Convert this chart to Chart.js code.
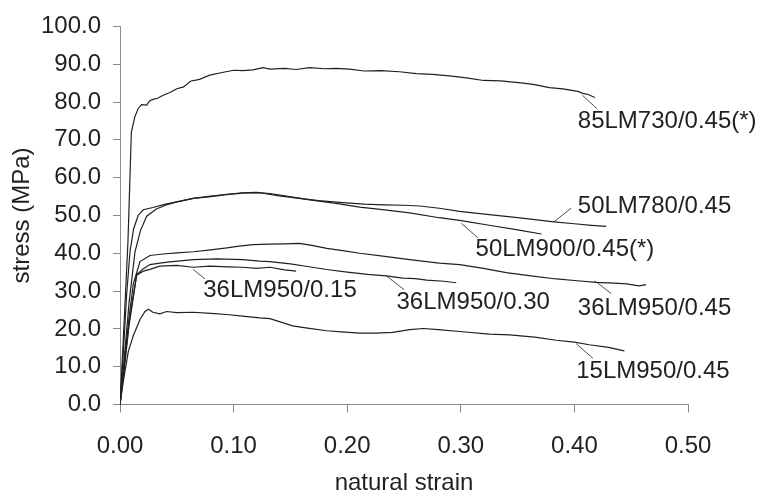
<!DOCTYPE html>
<html>
<head>
<meta charset="utf-8">
<script src="https://cdn.jsdelivr.net/npm/chart.js@4/dist/chart.umd.min.js"></script>
<style>
  body { margin: 0; background: #fff; }
  canvas { display: block; }
</style>
</head>
<body>
<canvas id="c" width="761" height="496"></canvas>
<script>
// stress-strain curves (strain, stress in MPa)
const strain85 = [0, 0.004, 0.007, 0.010, 0.013, 0.016, 0.019, 0.0235, 0.026, 0.029, 0.033, 0.038, 0.044, 0.05, 0.056, 0.062, 0.07, 0.079, 0.09, 0.10, 0.108, 0.117, 0.126, 0.132, 0.145, 0.155, 0.167, 0.18, 0.19, 0.202, 0.215, 0.23, 0.246, 0.261, 0.275, 0.29, 0.305, 0.32, 0.335, 0.355, 0.365, 0.378, 0.39, 0.403, 0.4075, 0.412, 0.418];
const stress85 = [0, 24, 43, 72, 76, 78.3, 79.3, 79.2, 80.3, 80.7, 81.0, 81.8, 82.5, 83.5, 84.0, 85.5, 86.0, 87.1, 87.8, 88.4, 88.3, 88.5, 89.1, 88.7, 88.9, 88.6, 89.1, 88.8, 88.9, 88.7, 88.2, 88.3, 88.0, 87.5, 87.3, 86.9, 86.4, 85.7, 85.6, 85.0, 84.6, 83.8, 83.5, 82.8, 82.3, 82.0, 81.2];

const strain50a = [0, 0.003, 0.0059, 0.0088, 0.012, 0.016, 0.0205, 0.029, 0.04, 0.05, 0.0645, 0.08, 0.094, 0.108, 0.12, 0.132, 0.145, 0.167, 0.19, 0.211, 0.233, 0.255, 0.281, 0.299, 0.325, 0.35, 0.371];
const stress50a = [0, 14, 29.3, 40.4, 46.5, 50, 51.5, 52.1, 53.0, 53.6, 54.5, 55.1, 55.6, 56.0, 56.1, 55.8, 55.2, 54.1, 53.2, 52.2, 51.5, 50.7, 49.4, 48.7, 47.4, 46.2, 45.1];

const strain50b = [0, 0.004, 0.008, 0.0132, 0.018, 0.0235, 0.032, 0.04, 0.05, 0.0645, 0.08, 0.094, 0.108, 0.123, 0.14, 0.158, 0.175, 0.196, 0.215, 0.232, 0.25, 0.264, 0.281, 0.299, 0.325, 0.35, 0.382, 0.40, 0.415, 0.428];
const stress50b = [0, 13, 27, 40.4, 46, 49.8, 51.7, 52.7, 53.6, 54.5, 55.0, 55.5, 55.9, 56.0, 55.2, 54.5, 53.9, 53.4, 53.0, 52.8, 52.7, 52.5, 51.9, 51.1, 50.2, 49.4, 48.3, 47.8, 47.4, 47.1];

const strain36c = [0, 0.004, 0.008, 0.0117, 0.0176, 0.0264, 0.038, 0.05, 0.0645, 0.08, 0.094, 0.105, 0.117, 0.132, 0.145, 0.158, 0.17, 0.182, 0.196, 0.211, 0.233, 0.255, 0.281, 0.299, 0.32, 0.34, 0.36, 0.384, 0.40, 0.419, 0.435, 0.446, 0.457, 0.463];
const stress36c = [0, 12, 23, 31.9, 37.8, 39.4, 39.8, 40.1, 40.4, 40.9, 41.4, 41.9, 42.3, 42.4, 42.5, 42.6, 42.0, 41.3, 40.7, 40.0, 39.2, 38.3, 37.4, 37.0, 36.0, 34.9, 34.1, 33.2, 32.8, 32.3, 32.1, 31.9, 31.4, 31.7];

const strain36b = [0, 0.004, 0.008, 0.0147, 0.02, 0.0264, 0.035, 0.044, 0.0645, 0.085, 0.108, 0.123, 0.132, 0.15, 0.165, 0.182, 0.2, 0.218, 0.2346, 0.249, 0.26, 0.270, 0.285, 0.296];
const stress36b = [0, 11, 22, 34.4, 35.8, 37.0, 37.4, 37.7, 38.3, 38.5, 38.3, 37.9, 37.8, 37.2, 36.5, 35.7, 35.0, 34.4, 34.0, 33.4, 33.3, 32.9, 32.6, 32.2];

const strain36a = [0, 0.004, 0.008, 0.0147, 0.02, 0.027, 0.035, 0.05, 0.0645, 0.079, 0.095, 0.108, 0.12, 0.132, 0.145, 0.155];
const stress36a = [0, 10, 21, 34.2, 35.2, 35.8, 36.6, 36.8, 36.3, 36.6, 36.4, 36.3, 36.0, 36.3, 35.6, 35.3];

const strain15 = [0, 0.003, 0.0073, 0.0117, 0.0176, 0.022, 0.025, 0.029, 0.035, 0.041, 0.05, 0.0645, 0.08, 0.094, 0.11, 0.123, 0.132, 0.152, 0.165, 0.182, 0.195, 0.211, 0.225, 0.24, 0.255, 0.267, 0.28, 0.299, 0.325, 0.343, 0.365, 0.384, 0.40, 0.413, 0.43, 0.444];
const stress15 = [0, 6.3, 14, 18.2, 22.5, 24.6, 25.2, 24.4, 24.0, 24.6, 24.3, 24.4, 24.1, 23.8, 23.3, 22.9, 22.7, 20.8, 20.2, 19.5, 19.2, 18.9, 18.9, 19.1, 19.8, 20.1, 19.8, 19.3, 18.6, 18.4, 17.8, 17.0, 16.5, 15.8, 15.1, 14.2];

const seriesNames = ["85LM730/0.45(*)", "50LM900/0.45(*)", "50LM780/0.45", "36LM950/0.45", "36LM950/0.30", "36LM950/0.15", "15LM950/0.45"];

// label text spot and leader line, in data units
const curveLabels = [
  { text: "85LM730/0.45(*)", at: [0.403, 74.8], from: [0.407, 81.8], to: [0.420, 78.2] },
  { text: "50LM780/0.45",    at: [0.403, 52.5], from: [0.382, 48.3], to: [0.397, 51.9] },
  { text: "50LM900/0.45(*)", at: [0.313, 41.1], from: [0.3005, 47.9], to: [0.315, 44.1] },
  { text: "36LM950/0.45",    at: [0.403, 25.5], from: [0.418, 32.7], to: [0.4325, 29.3] },
  { text: "36LM950/0.30",    at: [0.2434, 27.0], from: [0.2346, 34.0], to: [0.250, 30.4] },
  { text: "36LM950/0.15",    at: [0.0733, 30.2], from: [0.0645, 35.7], to: [0.0748, 33.2] },
  { text: "15LM950/0.45",    at: [0.4016, 8.8], from: [0.4016, 16.1], to: [0.4163, 12.2] }
];

const INK = "#231f20";
const AXIS = "#8c8c8c";
const FONT = '"Liberation Sans", Arial, sans-serif';

function toPoints(xs, ys) {
  return xs.map((v, i) => ({ x: v, y: ys[i] }));
}

const allSeries = [
  [strain85, stress85], [strain50a, stress50a], [strain50b, stress50b],
  [strain36c, stress36c], [strain36b, stress36b], [strain36a, stress36a],
  [strain15, stress15]
];

const datasets = allSeries.map((s, i) => ({
  label: seriesNames[i],
  data: toPoints(s[0], s[1]),
  showLine: true,
  borderColor: INK,
  borderWidth: 1.2,
  pointRadius: 0,
  tension: 0
}));

// Beschriftungen mit Hinweislinien
const labelPlugin = {
  id: "curveLabels",
  afterDatasetsDraw(chart) {
    const { ctx, scales: { x, y } } = chart;
    ctx.save();
    ctx.font = "24px " + FONT;
    ctx.fillStyle = INK;
    ctx.strokeStyle = INK;
    ctx.lineWidth = 0.8;
    ctx.textAlign = "left";
    ctx.textBaseline = "middle";
    curveLabels.forEach((l) => {
      ctx.beginPath();
      ctx.moveTo(x.getPixelForValue(l.from[0]), y.getPixelForValue(l.from[1]));
      ctx.lineTo(x.getPixelForValue(l.to[0]), y.getPixelForValue(l.to[1]));
      ctx.stroke();
      ctx.fillText(l.text, x.getPixelForValue(l.at[0]), y.getPixelForValue(l.at[1]));
    });
    ctx.restore();
  }
};

new Chart(document.getElementById("c"), {
  type: "scatter",
  data: { datasets },
  plugins: [labelPlugin],
  options: {
    responsive: false,
    animation: false,
    devicePixelRatio: 1,
    layout: { padding: { left: 0, right: 73, top: 14, bottom: 0 } },
    plugins: { legend: { display: false }, tooltip: { enabled: false } },
    scales: {
      x: {
        type: "linear",
        min: 0,
        max: 0.5,
        afterFit: (s) => { s.height = 91.5; },
        border: { display: true, color: AXIS, width: 1 },
        grid: { drawOnChartArea: false, drawTicks: true, tickLength: 8, color: AXIS },
        ticks: {
          stepSize: 0.1,
          padding: 19,
          color: INK,
          font: { family: FONT, size: 24 },
          callback: (v) => v.toFixed(2)
        },
        title: { display: true, text: "natural strain", color: INK, font: { family: FONT, size: 24 }, padding: { top: 0, bottom: -2 } }
      },
      y: {
        type: "linear",
        min: 0,
        max: 100,
        afterFit: (s) => { s.width = 120; },
        border: { display: true, color: AXIS, width: 1 },
        grid: { drawOnChartArea: false, drawTicks: true, tickLength: 7, color: AXIS },
        ticks: {
          stepSize: 10,
          padding: 12,
          color: INK,
          font: { family: FONT, size: 24 },
          callback: (v) => v.toFixed(1)
        },
        title: { display: true, text: "stress (MPa)", color: INK, font: { family: FONT, size: 24 }, padding: { top: 8, bottom: 0 } }
      }
    }
  }
});
</script>
</body>
</html>
